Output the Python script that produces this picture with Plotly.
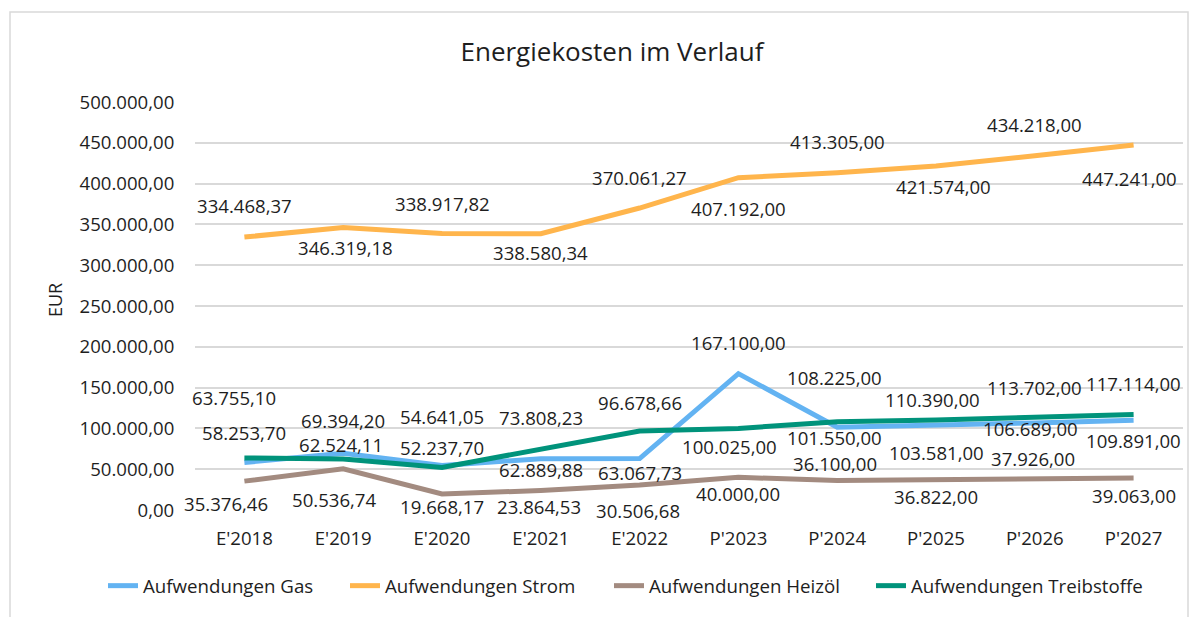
import plotly.graph_objects as go

# ---------------- data ----------------
categories = ["E'2018", "E'2019", "E'2020", "E'2021", "E'2022",
              "P'2023", "P'2024", "P'2025", "P'2026", "P'2027"]

gas = [58253.70, 69394.20, 54641.05, 62889.88, 63067.73,
       167100.00, 101550.00, 103581.00, 106689.00, 109891.00]
strom = [334468.37, 346319.18, 338917.82, 338580.34, 370061.27,
         407192.00, 413305.00, 421574.00, 434218.00, 447241.00]
heizoel = [35376.46, 50536.74, 19668.17, 23864.53, 30506.68,
           40000.00, 36100.00, 36822.00, 37926.00, 39063.00]
treib = [63755.10, 62524.11, 52237.70, 73808.23, 96678.66,
         100025.00, 108225.00, 110390.00, 113702.00, 117114.00]

series_names = ["Aufwendungen Gas", "Aufwendungen Strom",
                "Aufwendungen Heizöl", "Aufwendungen Treibstoffe"]

y_ticks = [0, 50000, 100000, 150000, 200000, 250000, 300000, 350000, 400000, 450000, 500000]

# ---------------- styling / label placement (pixels) ----------------
colors = ["#63b3f2", "#ffb54c", "#a38b80", "#00937b"]

gas_dy = [30, 33, 49, -11, -14, 31, -10, -27, -6, -20]
gas_dx = [0, 0, 0, 0, 0, 0, -3, 0, -4, 0]
strom_dy = [32, -20, 30, -19, 31, -31, 31, -20, 31, -33]
strom_dx = [0, 2, 0, 0, 0, 0, 0, 7, 0, -4]
heiz_dy = [-22, -31, -13, -16, -25, -16, 17, -17, 21, -17]
heiz_dx = [-18, -9, 0, -2, -2, 0, -2, 0, -2, 0]
treib_dy = [60, 14, 20, 32, 29, -18, 44, 20, 30, 31]
treib_dx = [-10, -2, 0, 0, 0, -9, -3, -4, 0, 0]

legend_left_px = [103, 345, 609, 871]   # one legend box per series

FONT = "Open Sans"
TXT = "#1e1e1e"

# page body margin of the browser (8 px) is compensated here
L, T, PW, PH = 187, 94, 988, 408


def de(v):
    s = f"{v:,.2f}"
    return s.replace(",", "X").replace(".", ",").replace("X", ".")


fig = go.Figure()

legend_ids = ["legend", "legend2", "legend3", "legend4"]
all_series = [gas, strom, heizoel, treib]
for name, vals, col, lid in zip(series_names, all_series, colors, legend_ids):
    fig.add_trace(go.Scatter(
        x=categories, y=vals, name=name, mode="lines",
        line=dict(color=col, width=5),
        hoverinfo="skip", legend=lid,
    ))

annotations = []
for vals, dys, dxs in [(gas, gas_dy, gas_dx), (strom, strom_dy, strom_dx),
                       (heizoel, heiz_dy, heiz_dx), (treib, treib_dy, treib_dx)]:
    for c, v, dy, dx in zip(categories, vals, dys, dxs):
        annotations.append(dict(
            x=c, y=v, xref="x", yref="y", text=de(v), showarrow=False,
            xshift=dx, yshift=dy, xanchor="center", yanchor="middle",
            font=dict(family=FONT, size=18.6, color=TXT),
        ))

# y-axis title
annotations.append(dict(
    x=(55 - 195) / PW, y=(510 - 300) / PH, xref="paper", yref="paper",
    text="EUR", showarrow=False, textangle=-90,
    xanchor="center", yanchor="middle",
    font=dict(family=FONT, size=18, color=TXT),
))

legend_layouts = {}
for lid, lx in zip(legend_ids, legend_left_px):
    legend_layouts[lid] = dict(
        orientation="h",
        x=(lx - 195) / PW, xanchor="left",
        y=(510 - 586) / PH, yanchor="middle",
        font=dict(family=FONT, size=18.7, color=TXT),
        itemwidth=30,
        bgcolor="rgba(0,0,0,0)",
    )

fig.update_layout(
    width=1200, height=617,
    margin=dict(l=L, r=1200 - L - PW, t=T, b=617 - T - PH),
    paper_bgcolor="white", plot_bgcolor="white",
    separators=",.",
    font=dict(family=FONT, color=TXT),
    title=dict(
        text="Energiekosten im Verlauf",
        x=(612 - 8) / 1200, xref="container", xanchor="center",
        y=1 - (52 - 8) / 617, yref="container", yanchor="middle",
        font=dict(family=FONT, size=26, color=TXT),
    ),
    showlegend=True,
    annotations=annotations,
    shapes=[dict(
        type="rect", xref="paper", yref="paper",
        x0=(10 - 195) / PW, x1=(1188 - 195) / PW,
        y0=(510 - 640) / PH, y1=(510 - 12) / PH,
        line=dict(color="#d9d9d9", width=1.5),
        fillcolor="rgba(0,0,0,0)", layer="below",
    )],
    **legend_layouts,
)

fig.update_xaxes(
    type="category", range=[-0.5, 9.5],
    showgrid=False, zeroline=False, showline=False,
    ticks="outside", ticklen=12, tickcolor="rgba(0,0,0,0)",
    tickfont=dict(family=FONT, size=18.6, color=TXT),
)
fig.update_yaxes(
    range=[0, 500000], tickvals=y_ticks, tickformat=",.2f",
    showgrid=True, gridcolor="#d9d9d9", gridwidth=1.5,
    zeroline=False, showline=False,
    ticks="outside", ticklen=16, tickcolor="rgba(0,0,0,0)",
    tickfont=dict(family=FONT, size=18.6, color=TXT),
)

fig.write_html("out.html")
